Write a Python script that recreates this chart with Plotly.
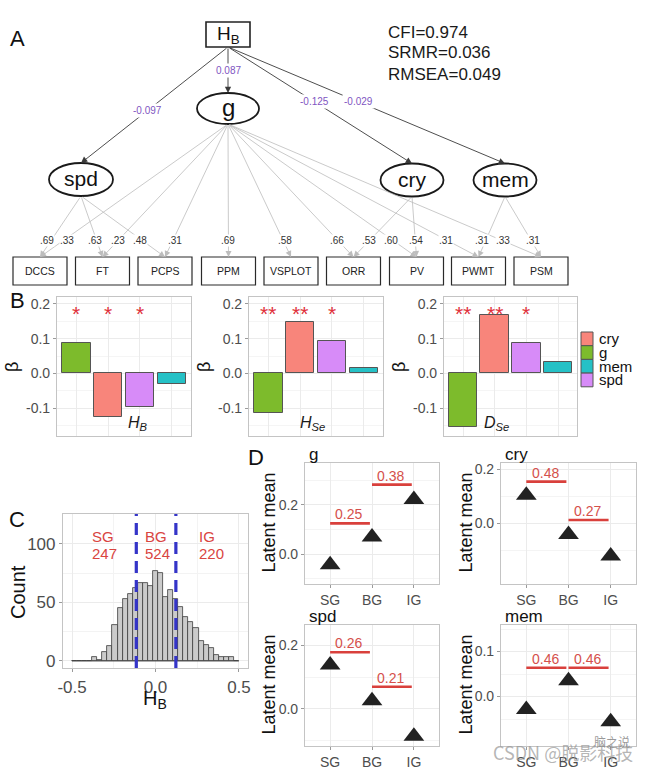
import plotly.graph_objects as go

W, H = 655, 770
FONT = "Liberation Sans, Arial, Helvetica, sans-serif"
CJK = "Noto Sans CJK SC, Noto Sans, sans-serif"
TXT = "#111111"
TICK = "#4d4d4d"
RED = "#D9403C"
PURPLE = "#7F56C2"

# ======================= DATA =======================
# Panel A : SEM model
fit_indices = ["CFI=0.974", "SRMR=0.036", "RMSEA=0.049"]
path_targets = ["g", "spd", "cry", "mem"]
path_coefs = [0.087, -0.097, -0.125, -0.029]
indicator_names = ["DCCS", "FT", "PCPS", "PPM", "VSPLOT", "ORR", "PV", "PWMT", "PSM"]
loading_from = ["spd", "g", "spd", "g", "spd", "g", "g", "g", "g", "cry", "g", "cry", "g", "mem", "g", "mem"]
loading_to = ["DCCS", "DCCS", "FT", "FT", "PCPS", "PCPS", "PPM", "VSPLOT", "ORR", "ORR",
              "PV", "PV", "PWMT", "PWMT", "PSM", "PSM"]
loading_vals = [0.69, 0.33, 0.63, 0.23, 0.48, 0.31, 0.69, 0.58, 0.66, 0.53, 0.60, 0.54, 0.31, 0.31, 0.33, 0.31]

# Panel B : standardized betas
factor_order = ["g", "cry", "spd", "mem"]
beta_HB = [0.087, -0.125, -0.097, -0.029]
beta_HSe = [-0.115, 0.149, 0.093, 0.015]
beta_DSe = [-0.155, 0.168, 0.089, 0.033]
stars_HB = ["*", "*", "*", ""]
stars_HSe = ["**", "**", "*", ""]
stars_DSe = ["**", "**", "*", ""]
legend_order = ["cry", "g", "mem", "spd"]
beta_ticks = [-0.1, 0.0, 0.1, 0.2]

# Panel C : histogram of H_B
hist_start = -0.5
hist_width = 1 / 33
hist_counts = [0, 0, 0, 0, 3, 1, 8, 13, 31, 45, 53, 57, 62, 67, 67, 64, 77, 75, 55, 61,
               53, 46, 38, 33, 28, 17, 14, 11, 5, 3, 3, 3, 0]
group_names = ["SG", "BG", "IG"]
group_sizes = [247, 524, 220]
cut_points = [-0.115, 0.122]
hb_ticks = [-0.5, 0.0, 0.5]
count_ticks = [0, 50, 100]

# Panel D : latent means per group
groups = ["SG", "BG", "IG"]
mean_g = [-0.044, 0.069, 0.222]
mean_cry = [0.104, -0.042, -0.121]
mean_spd = [0.139, 0.026, -0.086]
mean_mem = [-0.029, 0.035, -0.056]
pairs = [("SG", "BG"), ("BG", "IG")]
d_g, d_g_y = [0.25, 0.38], [0.125, 0.283]
d_cry, d_cry_y = [0.48, 0.27], [0.154, 0.012]
d_spd, d_spd_y = [0.26, 0.21], [0.179, 0.070]
d_mem, d_mem_y = [0.46, 0.46], [0.064, 0.064]

colors = {"cry": "#F8857B", "g": "#7DBB2C", "mem": "#25C1C6", "spd": "#D78BF8"}

# ======================= HELPERS =======================
def px(x):
    return x / W


def py(y):
    return 1 - y / H


fig = go.Figure()
shapes, annos = [], []
lay = {}

AX = dict(showline=True, mirror=True, linecolor="#c4c4c4", linewidth=1.2,
          showgrid=True, gridcolor="#ebebeb", gridwidth=1, zeroline=False,
          ticks="outside", ticklen=3, tickcolor="#9a9a9a", tickwidth=1, automargin=False,
          tickfont=dict(family=FONT, size=14, color=TICK), fixedrange=True)


def text(x, y, s, size, color=TXT, xref="paper", yref="paper", **kw):
    d = dict(x=x, y=y, xref=xref, yref=yref, text=s, showarrow=False,
             xanchor="center", yanchor="middle",
             font=dict(family=kw.pop("family", FONT), size=size, color=color))
    d.update(kw)
    return d


# ======================= PANEL A =======================
node_xy = {"HB": (228, 34.5), "g": (228, 108.5), "spd": (81, 179.5), "cry": (412, 180), "mem": (505, 180)}
node_r = {"g": (31, 15.5), "spd": (32, 16.5), "cry": (31.5, 16.5), "mem": (31.5, 16.5)}
hb_half = (22, 12.5)
ind_x = [40, 102.5, 165, 228.5, 291, 353.5, 416.5, 478.5, 541]
ind_top, ind_bot, ind_half_w = 257, 285, 27
label_row_y = 240
loading_label_x = [47, 67, 95, 118, 140, 175, 228, 285, 337, 369, 391, 416, 446, 482, 503, 533]
path_label_frac = [0.52, 0.55, 0.47, 0.47]

fig.add_trace(go.Scatter(x=[v[0] for v in node_xy.values()], y=[v[1] for v in node_xy.values()],
                         mode="markers", marker=dict(size=1, opacity=0), hoverinfo="skip",
                         showlegend=False, xaxis="x", yaxis="y"))
lay["xaxis"] = dict(domain=[0, 1], range=[0, W], visible=False, fixedrange=True, automargin=False)
lay["yaxis"] = dict(domain=[py(290), 1], range=[290, 0], visible=False, fixedrange=True, automargin=False)

# loading arrows
load_labels = []
for f, t, v, lx in zip(loading_from, loading_to, loading_vals, loading_label_x):
    cx, cy = node_xy[f]
    sx, sy = cx, cy + node_r[f][1]
    tx, ty = ind_x[indicator_names.index(t)], ind_top
    annos.append(dict(x=tx, y=ty, ax=sx, ay=sy, xref="x", yref="y", axref="x", ayref="y",
                      text="", showarrow=True, arrowhead=2, arrowsize=1.5, arrowwidth=0.8,
                      arrowcolor="#bdbdbd", standoff=0))
    load_labels.append(text(lx, label_row_y, ("%.2f" % v).lstrip("0"), 10, "#333333",
                            xref="x", yref="y", bgcolor="white", borderpad=0))

# structural paths from H_B
hbx, hby = node_xy["HB"]
src = (hbx, hby + hb_half[1])
path_labels = []
for tgt, coef, frac in zip(path_targets, path_coefs, path_label_frac):
    cx, cy = node_xy[tgt]
    tx, ty = cx, cy - node_r[tgt][1]
    annos.append(dict(x=tx, y=ty, ax=src[0], ay=src[1], xref="x", yref="y", axref="x", ayref="y",
                      text="", showarrow=True, arrowhead=2, arrowsize=1.4, arrowwidth=0.9,
                      arrowcolor="#3a3a3a", standoff=0))
    lx = src[0] + (tx - src[0]) * frac
    ly = src[1] + (ty - src[1]) * frac
    path_labels.append(text(lx, ly, "%.3f" % coef, 10, PURPLE, xref="x", yref="y",
                            bgcolor="white", borderpad=1))
annos += load_labels + path_labels

# H_B box
shapes.append(dict(type="rect", xref="x", yref="y", x0=hbx - hb_half[0], x1=hbx + hb_half[0],
                   y0=hby - hb_half[1], y1=hby + hb_half[1], line=dict(color="#222", width=1.6),
                   fillcolor="white", layer="above"))
annos.append(text(hbx, hby + 0.5, "H<sub>B</sub>", 19, TXT, xref="x", yref="y"))

# latent ellipses
for name in ["g", "spd", "cry", "mem"]:
    cx, cy = node_xy[name]
    rx, ry = node_r[name]
    shapes.append(dict(type="circle", xref="x", yref="y", x0=cx - rx, x1=cx + rx, y0=cy - ry, y1=cy + ry,
                       line=dict(color="#1a1a1a", width=1.8), fillcolor="white", layer="above"))
    annos.append(text(cx, cy - 1, name, 24 if name == "g" else 21, TXT, xref="x", yref="y"))

# indicator boxes
for name, bx in zip(indicator_names, ind_x):
    shapes.append(dict(type="rect", xref="x", yref="y", x0=bx - ind_half_w, x1=bx + ind_half_w,
                       y0=ind_top, y1=ind_bot, line=dict(color="#2a2a2a", width=1.2),
                       fillcolor="white", layer="above"))
    annos.append(text(bx, (ind_top + ind_bot) / 2, name, 10.5, "#222", xref="x", yref="y"))

# fit indices
for i, s in enumerate(fit_indices):
    annos.append(text(px(386), py(32 + 21 * i), s, 17, "#1a1a1a", xanchor="left"))

# ======================= PANEL B =======================
b_specs = [
    ("2", beta_HB, stars_HB, "<i>H<sub>B</sub></i>", (57, 191), 138),
    ("3", beta_HSe, stars_HSe, "<i>H<sub>Se</sub></i>", (249, 383), 312),
    ("4", beta_DSe, stars_DSe, "<i>D<sub>Se</sub></i>", (444, 577), 497),
]
b_top, b_bot = 297, 436
for n, vals, stars, lab, (xl, xr), lab_x in b_specs:
    fig.add_trace(go.Bar(x=factor_order, y=vals, width=0.9,
                         marker=dict(color=[colors[f] for f in factor_order],
                                     line=dict(color="#555555", width=1)),
                         showlegend=False, hoverinfo="skip", xaxis="x" + n, yaxis="y" + n))
    lay["xaxis" + n] = dict(AX, domain=[px(xl), px(xr)], type="category", range=[-0.6, 3.6],
                            showticklabels=False, ticks="", anchor="y" + n)
    lay["yaxis" + n] = dict(AX, domain=[py(b_bot), py(b_top)], range=[-0.18, 0.22],
                            tickvals=beta_ticks, ticktext=["%.1f" % v for v in beta_ticks],
                            minor=dict(tickvals=[-0.15, -0.05, 0.05, 0.15], showgrid=True,
                                       gridcolor="#f5f5f5", ticks=""),
                            anchor="x" + n)
    for f, s in zip(factor_order, stars):
        if s:
            annos.append(text(f, 0.172, s, 21, "#E0303A", xref="x" + n, yref="y" + n))
    annos.append(text(px(lab_x), py(423), lab, 16, "#1a1a1a"))
    annos.append(text(px(xl - 45), py(367), "β", 18, TXT, textangle=-90))

# manual legend
for i, f in enumerate(legend_order):
    y0 = 332 + i * 13.7
    shapes.append(dict(type="rect", xref="paper", yref="paper", x0=px(581), x1=px(593),
                       y0=py(y0 + 13.7), y1=py(y0), fillcolor=colors[f],
                       line=dict(color="#555555", width=1)))
    annos.append(text(px(597), py(y0 + 6.85), f, 15, TXT, xanchor="left"))

# ======================= PANEL C =======================
hist_x = [hist_start + hist_width * (i + 0.5) for i in range(len(hist_counts))]
fig.add_trace(go.Scatter(x=[hist_start, hist_start + hist_width * len(hist_counts)], y=[0, 0],
                         mode="lines", line=dict(color="#3d3d3d", width=0.8),
                         showlegend=False, hoverinfo="skip", xaxis="x5", yaxis="y5"))
fig.add_trace(go.Bar(x=hist_x, y=hist_counts, width=hist_width,
                     marker=dict(color="#cbcbcb", line=dict(color="#3d3d3d", width=0.8)),
                     showlegend=False, hoverinfo="skip", xaxis="x5", yaxis="y5"))
lay["xaxis5"] = dict(AX, domain=[px(63), px(248)], range=[-0.554, 0.554], tickvals=hb_ticks,
                     ticktext=["%.1f" % v for v in hb_ticks],
                     tickfont=dict(family=FONT, size=17, color=TICK),
                     minor=dict(tickvals=[-0.25, 0.25], showgrid=True, gridcolor="#f3f3f3", ticks=""),
                     anchor="y5")
lay["yaxis5"] = dict(AX, domain=[py(668), py(514)], range=[-6, 125.6], tickvals=count_ticks,
                     tickfont=dict(family=FONT, size=17, color=TICK),
                     minor=dict(tickvals=[25, 75, 125], showgrid=True, gridcolor="#f3f3f3", ticks=""),
                     anchor="x5")
for c in cut_points:
    shapes.append(dict(type="line", xref="x5", yref="y5 domain", x0=c, x1=c, y0=0, y1=1,
                       line=dict(color="#3434C8", width=3.2, dash="12px,7px"), layer="above"))
group_label_left = [-0.39, -0.072, 0.247]
for name, n, gx in zip(group_names, group_sizes, group_label_left):
    annos.append(text(gx, 106, name, 15, "#D9453F", xref="x5", yref="y5", xanchor="left"))
    annos.append(text(gx, 91.5, str(n), 15, "#D9453F", xref="x5", yref="y5", xanchor="left"))
annos.append(text(px(18), py(592), "Count", 20, TXT, textangle=-90))
annos.append(text(px(155), py(699), "H<sub>B</sub>", 20, TXT))

# ======================= PANEL D =======================
d_specs = [
    ("6", "g", mean_g, d_g, d_g_y, (305, 439), (463, 584), [-0.122, 0.371], [0.0, 0.2], [-0.1, 0.1, 0.3]),
    ("7", "cry", mean_cry, d_cry, d_cry_y, (501, 636), (463, 584), [-0.225, 0.223], [0.0, 0.2], [-0.1, 0.1]),
    ("8", "spd", mean_spd, d_spd, d_spd_y, (305, 439), (625, 746), [-0.117, 0.265], [0.0, 0.2], [-0.1, 0.1]),
    ("9", "mem", mean_mem, d_mem, d_mem_y, (501, 636), (625, 746), [-0.11, 0.159], [0.0, 0.1], [-0.05, 0.05, 0.15]),
]
gidx = list(range(len(groups)))
for n, title, means, ds, dys, (xl, xr), (yt, yb), yr, ytk, ymn in d_specs:
    for (a, b), d, yv in zip(pairs, ds, dys):
        x0, x1 = groups.index(a), groups.index(b) - 0.05
        fig.add_trace(go.Scatter(x=[x0, x1], y=[yv, yv], mode="lines",
                                 line=dict(color=RED, width=2.6), showlegend=False,
                                 hoverinfo="skip", xaxis="x" + n, yaxis="y" + n))
        annos.append(text((x0 + x1) / 2 - 0.03, yv, "%.2f" % d, 14, "#D5504B",
                          xref="x" + n, yref="y" + n, yshift=9))
    fig.add_trace(go.Scatter(x=gidx, y=means, mode="markers",
                             marker=dict(symbol="triangle-up", size=18, color="#222222"),
                             showlegend=False, hoverinfo="skip", xaxis="x" + n, yaxis="y" + n))
    lay["xaxis" + n] = dict(AX, domain=[px(xl), px(xr)], range=[-0.6, 2.6], tickvals=gidx,
                            ticktext=groups, anchor="y" + n)
    lay["yaxis" + n] = dict(AX, domain=[py(yb), py(yt)], range=yr, tickvals=ytk,
                            ticktext=["%.1f" % v for v in ytk],
                            minor=dict(tickvals=ymn, showgrid=True, gridcolor="#f4f4f4", ticks=""),
                            anchor="x" + n)
    annos.append(text(px(xl + 2), py(yt - 8.5), title, 17, TXT, xanchor="left"))
    annos.append(text(px(268 if xl < 400 else 465), py((yt + yb) / 2 - 1), "Latent mean", 18, TXT,
                      textangle=-90))

# panel letters
for letter, (lx, ly) in zip("ABCD", [(17, 38), (17, 300), (17, 519), (256, 457)]):
    annos.append(text(px(lx), py(ly), letter, 22, TXT))

# watermark (present in the source image)
annos.append(text(px(612), py(741), "脑之说", 12, "rgba(120,120,120,0.75)", family=CJK))
annos.append(text(px(563), py(752), "CSDN @脱影科技", 18, "rgba(150,150,150,0.7)", family=CJK))

lay.update(dict(template="none", width=W, height=H,
                margin=dict(l=0, r=0, t=0, b=0, pad=0, autoexpand=False),
                paper_bgcolor="white", plot_bgcolor="white", showlegend=False,
                shapes=shapes, annotations=annos, font=dict(family=FONT), bargap=0))
fig.update_layout(**lay)
fig.write_html("out.html", config={"displayModeBar": False},
               post_script="document.body.style.margin='0px';")
